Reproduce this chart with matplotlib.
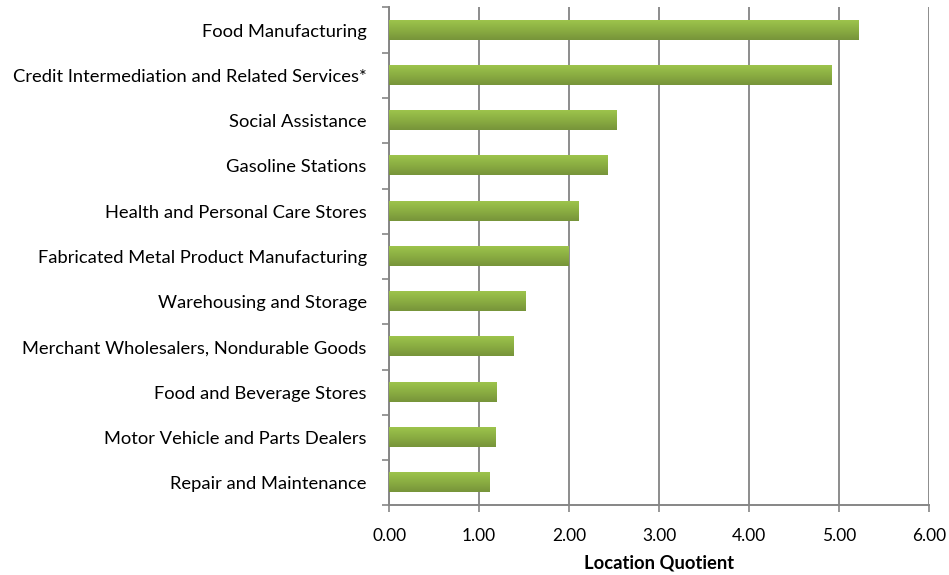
import matplotlib
matplotlib.use("Agg")
import matplotlib.pyplot as plt
import numpy as np
from matplotlib.colors import LinearSegmentedColormap

categories = [
    "Food Manufacturing",
    "Credit Intermediation and Related Services*",
    "Social Assistance",
    "Gasoline Stations",
    "Health and Personal Care Stores",
    "Fabricated Metal Product Manufacturing",
    "Warehousing and Storage",
    "Merchant Wholesalers, Nondurable Goods",
    "Food and Beverage Stores",
    "Motor Vehicle and Parts Dealers",
    "Repair and Maintenance",
]
values = [5.22, 4.92, 2.53, 2.43, 2.11, 2.00, 1.52, 1.38, 1.19, 1.18, 1.12]
xticks = [0, 1, 2, 3, 4, 5, 6]
xlabel = "Location Quotient"

plt.rcParams['font.family'] = ['Lato', 'DejaVu Sans']

fig = plt.figure(figsize=(9.49, 5.75), dpi=100)
ax = fig.add_axes([0.41, 0.121, 0.569, 0.866])

n = len(categories)
ypos = np.arange(n)
h = 0.42
cmap = LinearSegmentedColormap.from_list("g", ["#77943a", "#8aad42", "#9dc44c"])
grad = np.linspace(0, 1, 64).reshape(-1, 1)

bars = ax.barh(ypos, values, height=h, color="none", edgecolor="none", zorder=3)
for b in bars:
    x0, y0 = b.get_x(), b.get_y()
    w, hh = b.get_width(), b.get_height()
    ax.imshow(grad, extent=(x0, x0 + w, y0 + hh, y0), origin="lower",
              cmap=cmap, aspect="auto", zorder=3, interpolation="bicubic")

ax.set_xlim(0, 6)
ax.set_ylim(n - 0.5, -0.5)
ax.set_xticks(xticks)
ax.set_xticklabels([f"{v:.2f}" for v in xticks], fontsize=12.5)
ax.set_yticks(ypos)
ax.set_yticklabels(categories, fontsize=13.2)
ax.tick_params(axis='y', length=0, pad=16)
ax.set_yticks(np.arange(-0.5, n, 1), minor=True)
ax.tick_params(axis='y', which='minor', length=5, color="#868686", width=1.2, direction='out')
ax.tick_params(axis='x', length=5, color="#868686", width=1.2, direction='out', pad=11)

ax.grid(axis='x', color="#8c8c8c", linewidth=1.4, zorder=0)
ax.set_axisbelow(True)
for s in ["top", "right"]:
    ax.spines[s].set_visible(False)
for s in ["left", "bottom"]:
    ax.spines[s].set_color("#868686")
    ax.spines[s].set_linewidth(1.4)

ax.set_xlabel(xlabel, fontsize=13.2, fontweight="bold", labelpad=8)

fig.savefig("out.png", dpi=100, facecolor="white")
